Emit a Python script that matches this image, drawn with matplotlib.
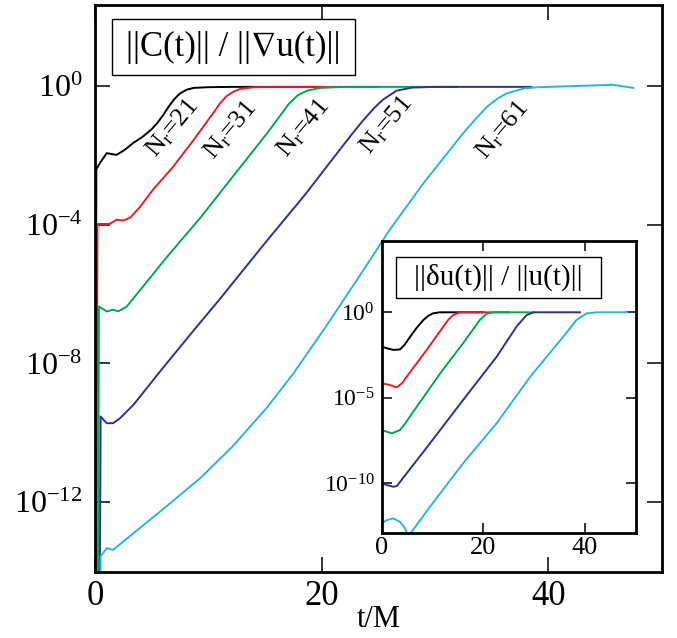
import numpy as np
import matplotlib
matplotlib.use('Agg')
import matplotlib.pyplot as plt
from matplotlib.patches import Rectangle
from matplotlib.ticker import NullLocator, FixedLocator, FixedFormatter

plt.rcParams['font.family'] = ['Liberation Serif', 'STIXGeneral', 'DejaVu Serif']
plt.rcParams['mathtext.fontset'] = 'custom'
plt.rcParams['mathtext.rm'] = 'Liberation Serif'
plt.rcParams['mathtext.it'] = 'Liberation Serif:italic'
plt.rcParams['mathtext.bf'] = 'Liberation Serif:bold'

# ---------------- data ----------------
resolutions = ['21', '31', '41', '51', '61']
colors = ['#000000', '#ed1c24', '#00a651', '#2e3192', '#2bb5d8']

# main panel: ||C(t)|| / ||grad u(t)||  (values given as log10)
t_main_21 = [0.0, 0.12, 0.45, 1.03, 1.9, 2.6, 3.4, 4.2, 5.0, 5.5, 6.0, 6.5, 7.0, 7.5, 8.1, 8.7, 9.9, 12.0, 20.0]
e_main_21 = [-16, -2.4, -2.22, -1.94, -1.99, -1.85, -1.64, -1.47, -1.25, -1.07, -0.85, -0.6, -0.38, -0.22, -0.11, -0.06, -0.04, -0.03, -0.03]
t_main_31 = [0.1, 0.22, 1.3, 1.9, 2.5, 3.1, 4.0, 5.1, 6.9, 8.7, 10.4, 11.0, 11.6, 12.2, 12.8, 14.0, 16.0, 25.0]
e_main_31 = [-16, -3.98, -3.98, -3.86, -3.88, -3.8, -3.48, -3.0, -2.33, -1.56, -0.8, -0.52, -0.3, -0.17, -0.09, -0.04, -0.03, -0.03]
t_main_41 = [0.25, 0.35, 1.03, 1.6, 2.06, 2.8, 4.0, 6.3, 9.3, 12.2, 15.2, 16.2, 17.1, 17.9, 18.7, 19.9, 22.0, 32.0]
e_main_41 = [-16, -6.36, -6.5, -6.45, -6.5, -6.36, -5.88, -4.95, -3.8, -2.6, -1.36, -0.92, -0.52, -0.27, -0.14, -0.06, -0.03, -0.03]
t_main_51 = [0.4, 0.5, 1.03, 1.6, 2.2, 3.4, 5.74, 8.7, 11.0, 15.2, 18.5, 21.6, 22.7, 23.7, 24.6, 25.4, 26.6, 28.0, 30.0, 38.5]
e_main_51 = [-16, -9.53, -9.72, -9.72, -9.58, -9.19, -8.23, -7.05, -6.15, -4.45, -3.15, -1.84, -1.38, -0.98, -0.65, -0.4, -0.14, -0.05, -0.03, -0.03]
t_main_61 = [0.45, 0.5, 1.03, 1.6, 3.4, 6.3, 9.3, 12.2, 15.2, 17.5, 20.45, 23.4, 26.0, 29.0, 32.5, 33.6, 34.6, 35.5, 36.3, 37.8, 39.0, 42.0, 45.7, 47.5]
e_main_61 = [-16, -13.56, -13.32, -13.37, -12.89, -12.12, -11.3, -10.37, -9.26, -8.29, -6.9, -5.45, -4.15, -2.8, -1.36, -0.95, -0.6, -0.37, -0.22, -0.08, -0.04, -0.01, 0.03, -0.06]

# inset: ||du(t)|| / ||u(t)||  (log10)
t_ins_21 = [0.0, 1.0, 2.3, 3.6, 4.5, 5.6, 6.9, 8.2, 9.2, 10.1, 11.4, 20.0]
e_ins_21 = [-2.01, -2.1, -2.2, -2.17, -1.9, -1.43, -0.9, -0.45, -0.2, -0.06, 0.0, 0.0]
t_ins_31 = [0.0, 1.6, 2.95, 4.0, 4.9, 8.85, 12.1, 13.2, 14.1, 15.4, 25.0]
e_ins_31 = [-4.15, -4.25, -4.39, -4.15, -3.77, -2.2, -0.84, -0.4, -0.16, 0.0, 0.0]
t_ins_41 = [0.0, 1.0, 2.0, 3.6, 4.5, 6.9, 11.5, 16.0, 19.3, 20.6, 21.9, 30.0]
e_ins_41 = [-6.88, -6.98, -7.08, -6.88, -6.55, -5.52, -3.57, -1.81, -0.45, -0.1, 0.0, 0.0]
t_ins_51 = [0.0, 1.0, 2.3, 3.0, 4.9, 9.5, 16.0, 22.6, 26.5, 28.5, 29.9, 39.0]
e_ins_51 = [-10.0, -10.1, -10.2, -10.15, -9.42, -7.66, -5.13, -2.6, -0.84, -0.16, 0.0, 0.0]
t_ins_61 = [0.0, 1.0, 2.3, 3.6, 4.6, 5.0, 5.25, 5.9, 9.5, 16.0, 22.6, 29.2, 35.7, 38.3, 40.3, 42.3, 48.3]
e_ins_61 = [-12.34, -12.15, -12.05, -12.25, -12.63, -12.92, -13.6, -12.83, -11.37, -8.83, -6.49, -3.77, -1.43, -0.45, -0.06, 0.0, 0.0]

main_t = [t_main_21, t_main_31, t_main_41, t_main_51, t_main_61]
main_e = [e_main_21, e_main_31, e_main_41, e_main_51, e_main_61]
ins_t = [t_ins_21, t_ins_31, t_ins_41, t_ins_51, t_ins_61]
ins_e = [e_ins_21, e_ins_31, e_ins_41, e_ins_51, e_ins_61]

# label anchor positions (t, log10 value)
label_t = [6.8, 11.9, 18.4, 25.7, 35.9]
label_e = [-1.21, -1.27, -1.21, -1.12, -1.27]

main_xticks = [0, 20, 40]
main_yexps = [0, -4, -8, -12]
ins_xticks = [0, 20, 40]
ins_yexps = [0, -5, -10]

# ---------------- figure ----------------
fig = plt.figure(figsize=(6.77, 6.38), dpi=100)
ax = fig.add_axes([0.1403, 0.1039, 0.8371, 0.8883])

for t, e, c in zip(main_t, main_e, colors):
    ax.plot(t, 10.0 ** np.array(e), color=c, lw=1.4)

ax.set_yscale('log')
ax.set_xlim(0, 50)
ax.set_ylim(1e-14, 10 ** 2.33)
ax.xaxis.set_major_locator(FixedLocator(main_xticks))
ax.xaxis.set_major_formatter(FixedFormatter([str(v) for v in main_xticks]))
ax.yaxis.set_major_locator(FixedLocator([10.0 ** e for e in main_yexps]))
ax.yaxis.set_major_formatter(FixedFormatter([r'$\mathregular{10^{%d}}$' % e for e in main_yexps]))
ax.yaxis.set_minor_locator(NullLocator())
ax.xaxis.set_minor_locator(NullLocator())
ax.tick_params(direction='in', length=10.5, width=1.1, top=True, right=True)
ax.tick_params(axis='x', labelsize=25, pad=6)
ax.tick_params(axis='y', labelsize=23, pad=9)
for s in ax.spines.values():
    s.set_linewidth(2.0)
ax.set_xlabel('t/M', fontsize=22, labelpad=-6)

for lt, le, r in zip(label_t, label_e, resolutions):
    ax.text(lt, 10.0 ** le, r'$\mathregular{N_r}$=' + r, rotation=50, fontsize=19,
            ha='center', va='center')

ax.add_patch(Rectangle((0.165, 0.882), 0.3594, 0.0877, transform=fig.transFigure,
                       facecolor='white', edgecolor='black', lw=1.0, clip_on=False, zorder=5))
ax.text(0.3447, 0.9259, '||C(t)|| / ||\u2207u(t)||', transform=fig.transFigure,
        fontsize=25, ha='center', va='center', zorder=6)

# ---------------- inset ----------------
axin = fig.add_axes([0.5638, 0.1641, 0.3756, 0.4582])
axin.set_facecolor('white')
for t, e, c in zip(ins_t, ins_e, colors):
    axin.plot(t, 10.0 ** np.array(e), color=c, lw=1.4)
axin.set_yscale('log')
axin.set_xlim(0, 50)
axin.set_ylim(10 ** -12.92, 10 ** 4.17)
axin.xaxis.set_major_locator(FixedLocator(ins_xticks))
axin.xaxis.set_major_formatter(FixedFormatter([str(v) for v in ins_xticks]))
axin.yaxis.set_major_locator(FixedLocator([10.0 ** e for e in ins_yexps]))
axin.yaxis.set_major_formatter(FixedFormatter([r'$\mathregular{10^{%d}}$' % e for e in ins_yexps]))
axin.yaxis.set_minor_locator(NullLocator())
axin.xaxis.set_minor_locator(NullLocator())
axin.tick_params(direction='in', length=7.5, width=1.1, top=True, right=True)
axin.tick_params(axis='x', labelsize=19, pad=3)
axin.tick_params(axis='y', labelsize=17, pad=5)
for s in axin.spines.values():
    s.set_linewidth(2.0)

axin.add_patch(Rectangle((0.585, 0.5324), 0.3023, 0.0653, transform=fig.transFigure,
                         facecolor='white', edgecolor='black', lw=1.0, clip_on=False, zorder=5))
axin.text(0.7362, 0.565, '||\u03b4u(t)|| / ||u(t)||', transform=fig.transFigure,
          fontsize=21, ha='center', va='center', zorder=6)

fig.savefig('out.png', dpi=100)
